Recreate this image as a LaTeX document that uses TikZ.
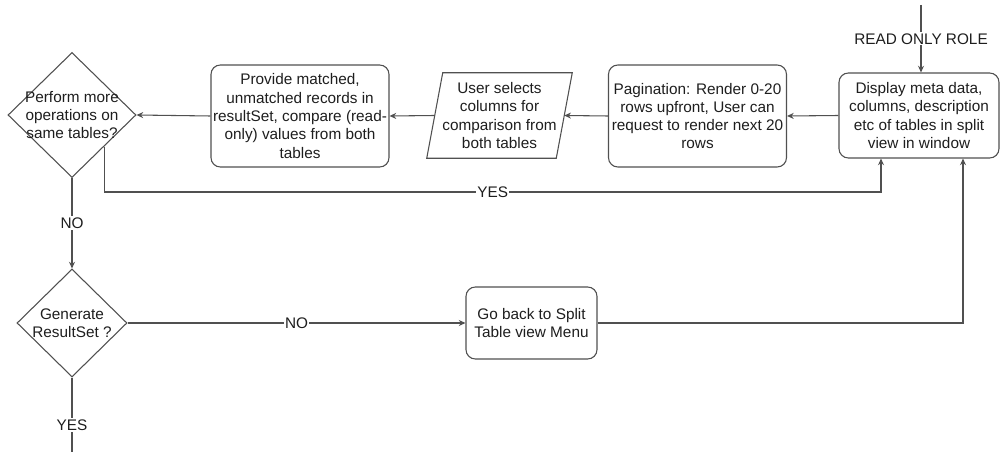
\documentclass[tikz,border=0pt]{standalone}
\usepackage{fontspec}
\setmainfont{Liberation Sans}
\usetikzlibrary{arrows.meta,shapes.geometric}
\newcommand\flowfont{\fontsize{11.5}{13.7}\selectfont}
\definecolor{linec}{RGB}{80,80,80}
\definecolor{txtc}{RGB}{30,30,30}
\begin{document}
\begin{tikzpicture}[x=0.75pt,y=-0.75pt,
  line/.style={draw=linec, line width=0.8pt},
  arr/.style={line, -{Stealth[length=5pt,width=4.5pt]}},
  box/.style={draw=linec, line width=0.8pt, rounded corners=7pt, align=center, inner sep=0pt, font=\flowfont, text=txtc},
  dia/.style={diamond, draw=linec, line width=0.8pt, inner sep=0pt},
  dtext/.style={align=center, inner sep=0pt, font=\flowfont, text=txtc},
  lbl/.style={fill=white, inner sep=1pt, font=\flowfont, text=txtc}]
\useasboundingbox[fill=white] (0,0) rectangle (1000,452);

% nodes
\node[dia, minimum width=96pt, minimum height=93.75pt] (d1) at (72,115) {};
\node[dtext] (d1t) at (d1) {Perform more\\operations on\\same tables?};

\node[box, minimum width=133.5pt, minimum height=76.5pt] (prov) at (300,116)
  {Provide matched,\\unmatched records in\\resultSet, compare (read-\\only) values from both\\tables};

\node[dtext, minimum width=96.75pt, minimum height=63.75pt] (sel) at (499.5,115.5)
  {User selects\\columns for\\comparison from\\both tables};
\draw[line] ([xshift=-6pt]sel.south west) -- ([xshift=-6pt]sel.south east)
  -- ([xshift=6pt]sel.north east) -- ([xshift=6pt]sel.north west) -- cycle;

\node[box, minimum width=133.5pt, minimum height=76.5pt] (pag) at (697.5,116)
  {Pagination: Render 0-20\\rows upfront, User can\\request to render next 20\\rows};

\node[box, minimum width=120pt, minimum height=63.75pt] (disp) at (919,115.5)
  {Display meta data,\\columns, description\\etc of tables in split\\view in window};

\node[dia, minimum width=82.5pt, minimum height=81pt] (d2) at (72,323) {};
\node[dtext] (d2t) at (d2) {Generate\\ResultSet ?};

\node[box, minimum width=98.25pt, minimum height=54pt] (back) at (531.5,323)
  {Go back to Split\\Table view Menu};

% free ends and bends
\coordinate (src) at (921,5);
\coordinate (c1) at (881,192);
\coordinate (c2) at (963,323);
\coordinate (fin) at (72,452);

% connectors
\draw[arr] (src) -- node[lbl]{READ ONLY ROLE} (src |- disp.north);
\draw[arr] (disp.west) -- (pag.east);
\draw[arr] (pag.west) -- (sel.east);
\draw[arr] (sel.west) -- (prov.east);
\draw[arr] (prov.west) -- (d1.east);
\draw[arr] (d1.south east) |- node[lbl,pos=0.75]{YES} (c1) -- (c1 |- disp.south);
\draw[arr] (d1.south) -- node[lbl]{NO} (d2.north);
\draw[arr] (d2.east) -- node[lbl]{NO} (back.west);
\draw[arr] (back.east) -- (c2) -- (c2 |- disp.south);
\draw[line] (d2.south) -- node[lbl,pos=0.64]{YES} (fin);
\end{tikzpicture}
\end{document}
